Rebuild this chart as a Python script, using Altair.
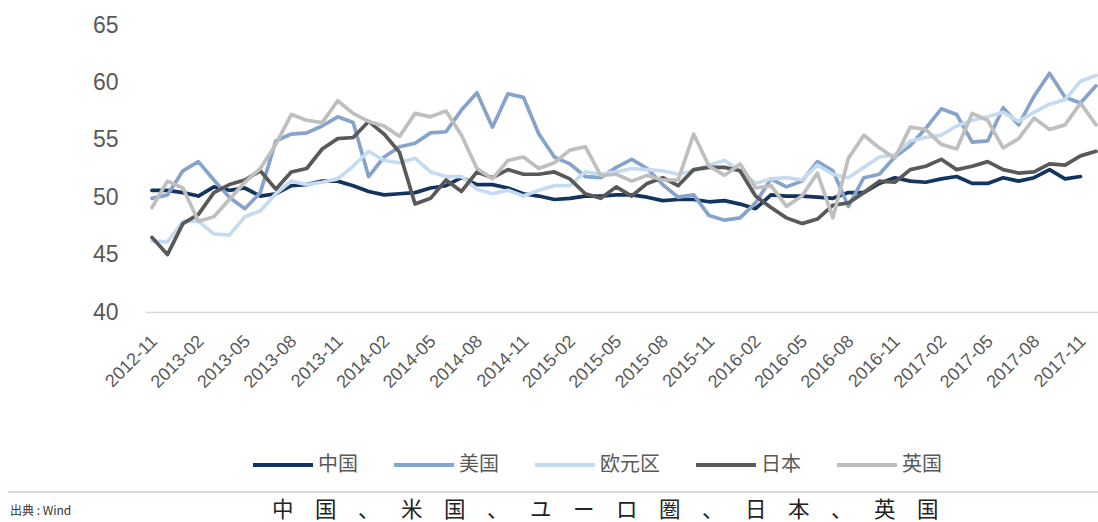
import altair as alt
import pandas as pd

# Monthly manufacturing PMI, 2012-11 .. 2017-12
months = pd.date_range("2012-11-01", "2017-12-01", freq="MS").strftime("%Y-%m").tolist()

series_names = ["中国", "美国", "欧元区", "日本", "英国"]
series_colors = ["#13345f", "#86a4cb", "#c6dbf0", "#595959", "#bfbfbf"]

china = [50.6, 50.6, 50.4, 50.1, 50.9, 50.6, 50.8, 50.1, 50.3, 51.0, 51.1, 51.4,
         51.4, 51.0, 50.5, 50.2, 50.3, 50.4, 50.8, 51.0, 51.7, 51.1, 51.1, 50.8,
         50.3, 50.1, 49.8, 49.9, 50.1, 50.1, 50.2, 50.2, 50.0, 49.7, 49.8, 49.8,
         49.6, 49.7, 49.4, 49.0, 50.2, 50.1, 50.1, 50.0, 49.9, 50.4, 50.4, 51.2,
         51.7, 51.4, 51.3, 51.6, 51.8, 51.2, 51.2, 51.7, 51.4, 51.7, 52.4, 51.6,
         51.8, None]
usa = [49.9, 50.2, 52.3, 53.1, 51.5, 50.0, 49.0, 50.4, 54.9, 55.5, 55.6, 56.2,
       57.0, 56.5, 51.8, 53.5, 54.4, 54.7, 55.6, 55.7, 57.6, 59.1, 56.1, 59.0,
       58.7, 55.5, 53.5, 52.9, 51.8, 51.7, 52.6, 53.3, 52.5, 51.1, 50.0, 50.2,
       48.4, 48.0, 48.2, 49.5, 51.6, 50.9, 51.4, 53.1, 52.3, 49.2, 51.7, 52.0,
       53.5, 54.5, 56.0, 57.7, 57.2, 54.8, 54.9, 57.8, 56.3, 58.8, 60.8, 58.7,
       58.2, 59.7]
euro = [46.2, 46.1, 47.9, 47.9, 46.8, 46.7, 48.3, 48.8, 50.3, 51.4, 51.1, 51.3,
        51.6, 52.7, 54.0, 53.2, 53.0, 53.4, 52.2, 51.8, 51.8, 50.7, 50.3, 50.6,
        50.1, 50.6, 51.0, 51.0, 52.2, 52.0, 52.2, 52.5, 52.4, 52.3, 52.0, 52.3,
        52.8, 53.2, 52.3, 51.2, 51.6, 51.7, 51.5, 52.8, 52.0, 51.7, 52.6, 53.5,
        53.7, 54.9, 55.2, 55.4, 56.2, 56.7, 57.0, 57.4, 56.6, 57.4, 58.1, 58.5,
        60.1, 60.6]
japan = [46.5, 45.0, 47.7, 48.5, 50.4, 51.1, 51.5, 52.3, 50.7, 52.2, 52.5, 54.2,
         55.1, 55.2, 56.6, 55.5, 53.9, 49.4, 49.9, 51.5, 50.5, 52.2, 51.7, 52.4,
         52.0, 52.0, 52.2, 51.6, 50.3, 49.9, 50.9, 50.1, 51.2, 51.7, 51.0, 52.4,
         52.6, 52.6, 52.3, 50.1, 49.1, 48.2, 47.7, 48.1, 49.3, 49.5, 50.4, 51.4,
         51.3, 52.4, 52.7, 53.3, 52.4, 52.7, 53.1, 52.4, 52.1, 52.2, 52.9, 52.8,
         53.6, 54.0]
uk = [49.1, 51.4, 50.8, 47.9, 48.3, 49.8, 51.3, 52.5, 54.6, 57.2, 56.7, 56.5,
      58.4, 57.3, 56.6, 56.2, 55.3, 57.3, 57.0, 57.5, 55.4, 52.5, 51.6, 53.2,
      53.5, 52.5, 53.0, 54.1, 54.4, 51.9, 52.0, 51.4, 51.9, 51.5, 51.5, 55.5,
      52.7, 51.9, 52.9, 50.8, 51.0, 49.2, 50.1, 52.1, 48.2, 53.4, 55.4, 54.3,
      53.4, 56.1, 55.9, 54.6, 54.2, 57.3, 56.7, 54.3, 55.1, 56.9, 55.9, 56.3,
      58.2, 56.3]

y_ticks = [40, 45, 50, 55, 60, 65]
tick_labels = months[::3]
source_note = "出典 : Wind"
# em spaces keep the wide, even spacing of the footer caption
caption = "\u2003".join("中国、米国、ユーロ圏、日本、英国")

rows = []
for name, vals in zip(series_names, [china, usa, euro, japan, uk]):
    for i, (m, v) in enumerate(zip(months, vals)):
        if v is not None:
            rows.append({"idx": i, "month": m, "series": name, "value": v})
df = pd.DataFrame(rows)

label_expr = "[" + ",".join(f"'{t}'" for t in tick_labels) + "][round(datum.value / 3)]"

x_enc = alt.X(
    "idx:Q",
    scale=alt.Scale(domain=[-0.45, 61.13], nice=False, zero=False),
    axis=alt.Axis(
        values=list(range(0, len(months), 3)),
        labelExpr=label_expr,
        labelAngle=-45,
        labelFont="Liberation Sans",
        labelFontSize=18,
        labelColor="#595959",
        labelPadding=20,
        labelOffset=-4,
        labelOverlap=False,
        labelBound=False,
        ticks=False,
        grid=False,
        domainColor="#d9d9d9",
        domainWidth=1.5,
    ),
    title=None,
)
y_enc = alt.Y(
    "value:Q",
    scale=alt.Scale(domain=[40, 65], nice=False, zero=False),
    axis=alt.Axis(
        values=y_ticks,
        labelFont="Liberation Sans",
        labelFontSize=23,
        labelColor="#595959",
        labelPadding=27,
        ticks=False,
        grid=False,
        domain=False,
    ),
    title=None,
)
color_enc = alt.Color(
    "series:N",
    scale=alt.Scale(domain=series_names, range=series_colors),
    legend=alt.Legend(
        title=None,
        orient="none",
        legendX=106,
        legendY=408,
        direction="horizontal",
        symbolType="stroke",
        symbolSize=3600,
        symbolStrokeWidth=4,
        labelFont="Noto Sans CJK SC",
        labelFontSize=20,
        labelColor="#595959",
        labelOffset=3,
        columnPadding=28,
        padding=0,
    ),
)

base = alt.Chart(df).mark_line(strokeWidth=3.7, strokeJoin="round", strokeCap="round").encode(
    x=x_enc, y=y_enc, color=color_enc
)
# one layer per series so that later series are painted on top
line_layers = [base.transform_filter(alt.datum.series == name) for name in series_names]

footer_rule = alt.Chart(pd.DataFrame({"k": [0]})).mark_rule(color="#c9a9a9", strokeWidth=1.2).encode(
    x=alt.value(-137), x2=alt.value(953), y=alt.value(467)
)
note_text = alt.Chart(pd.DataFrame({"t": [source_note]})).mark_text(
    align="left", baseline="middle", font="Noto Sans CJK JP", fontSize=12, color="#333333"
).encode(x=alt.value(-135), y=alt.value(486), text="t:N")
caption_text = alt.Chart(pd.DataFrame({"t": [caption]})).mark_text(
    align="left", baseline="middle", font="Noto Sans CJK JP", fontSize=21.5, color="#222222"
).encode(x=alt.value(127), y=alt.value(486), text="t:N")

chart = alt.layer(*line_layers, footer_rule, note_text, caption_text).properties(
    width=953,
    height=287,
    autosize=alt.AutoSizeParams(type="none"),
    padding={"left": 145, "top": 25, "right": 0, "bottom": 210},
    background="white",
).configure_view(stroke=None)

chart.save("out.html", embed_options={"renderer": "svg", "actions": False})
